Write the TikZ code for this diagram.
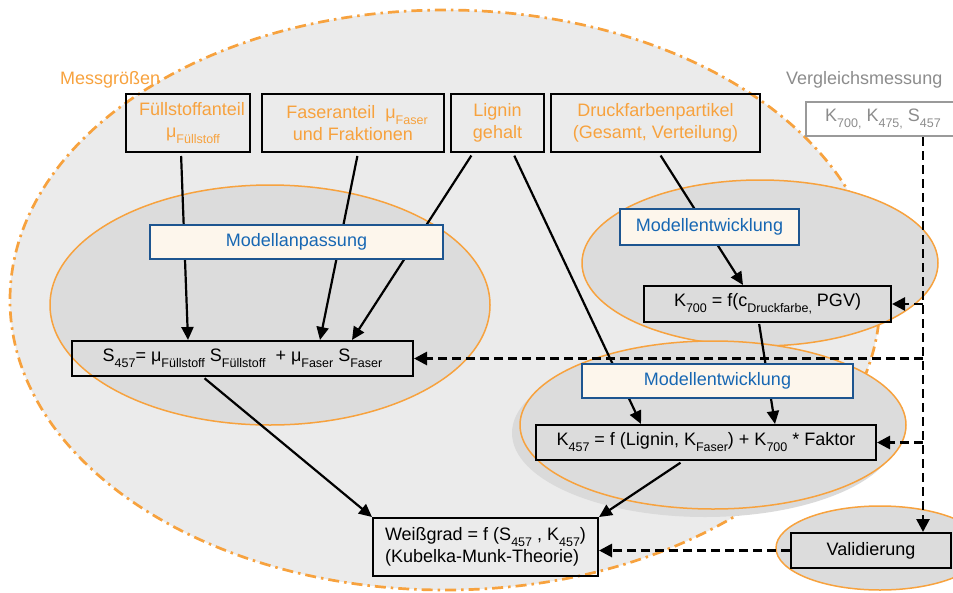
\documentclass[tikz,border=0pt]{standalone}
\usepackage{fontspec}
\setmainfont{Liberation Sans}
\usetikzlibrary{arrows.meta}
\definecolor{orng}{HTML}{F7A23E}
\definecolor{bluetxt}{HTML}{1767B3}
\definecolor{bluedraw}{HTML}{1D5590}
\definecolor{cream}{HTML}{FDF6EC}
\definecolor{outerfill}{HTML}{EBEBEB}
\definecolor{innerfill}{HTML}{DCDCDC}
\definecolor{shadowfill}{HTML}{DADADA}
\definecolor{graytxt}{HTML}{8C8C8C}
\definecolor{graydraw}{HTML}{9A9A9A}
\newcommand\dn[1]{\raisebox{-6pt}{\fontsize{12.5}{12.5}\selectfont #1}}
\tikzset{
  box/.style={draw=black, line width=2pt, inner sep=0pt, align=center},
  inbox/.style={box, text=orng},
  modelbox/.style={draw=bluedraw, line width=1.8pt, fill=cream, text=bluetxt, inner sep=0pt},
  arr/.style={line width=2.2pt, -{Triangle[length=13pt,width=12pt]}},
  darr/.style={line width=2.7pt, dash pattern=on 9pt off 5pt, -{Triangle[length=13pt,width=13pt]}},
  zone/.style={fill=innerfill, draw=orng, line width=1.5pt}
}
\begin{document}
\begin{tikzpicture}[x=1pt,y=-1pt,font=\fontsize{18}{22.5}\selectfont]
\useasboundingbox (0,0) rectangle (953,592);
\clip (0,0) rectangle (953,592);
% big outer ellipse
\fill[outerfill] (445,300) ellipse [x radius=435, y radius=290];
\draw[orng, line width=2.7pt, dash pattern=on 11pt off 5pt on 2.5pt off 5pt] (445,300) ellipse [x radius=435, y radius=290];
% inner ellipses
\draw[zone] (270,305) ellipse [x radius=220, y radius=120];
\draw[zone] (760,263) ellipse [x radius=178, y radius=83];
\fill[shadowfill] (705,433) ellipse [x radius=193, y radius=84];
\draw[zone] (713,425) ellipse [x radius=193, y radius=84];
\draw[zone] (880,548) ellipse [x radius=104, y radius=42];
% labels
\node[text=orng, anchor=west, inner sep=0pt] (mess) at (60,80) {Messgrößen};
\node[text=graytxt, anchor=west, inner sep=0pt] (vgl) at (786,80) {Vergleichsmessung};
% input boxes
\node[inbox, minimum width=124pt, minimum height=58pt] (fuell) at (188,123) {\hspace*{8pt}Füllstoffanteil\\\hspace*{10pt}μ\dn{Füllstoff}};
\node[inbox, minimum width=182pt, minimum height=58pt] (faser) at (353,123) {\hspace*{8pt}Faseranteil\ \ μ\dn{Faser}\\und Fraktionen};
\node[inbox, minimum width=93pt, minimum height=58pt] (lignin) at (497.5,123) {Lignin\\gehalt};
\node[inbox, minimum width=209pt, minimum height=58pt] (druck) at (655.5,123) {Druckfarbenpartikel\\(Gesamt, Verteilung)};
\node[draw=graydraw, line width=2pt, text=graytxt, inner sep=0pt, minimum width=154pt, minimum height=34pt] (vgbox) at (883,119) {K\dn{700,} K\dn{475,} S\dn{457}};
% equation boxes
\node[box, minimum width=341pt, minimum height=35pt] (s457) at (242.5,358.5) {S\dn{457}= μ\dn{Füllstoff} S\dn{Füllstoff}\ \ + μ\dn{Faser} S\dn{Faser}};
\node[box, minimum width=247pt, minimum height=36pt] (k700) at (767.5,304) {K\dn{700} = f(c\dn{Druckfarbe,} PGV)};
\node[box, minimum width=340pt, minimum height=35pt] (k457) at (706,442.5) {K\dn{457} = f (Lignin, K\dn{Faser}) + K\dn{700} * Faktor};
\node[box, minimum width=225pt, minimum height=58pt, align=left] (weiss) at (485.5,547) {Weißgrad = f (S\dn{457} , K\dn{457})\\(Kubelka-Munk-Theorie)};
\node[box, minimum width=160pt, minimum height=35pt] (valid) at (871,550.5) {Validierung};
% solid connectors
\draw[arr, shorten <=3pt] ([xshift=-7pt]fuell.south) -- ([xshift=-54.5pt]s457.north);
\draw[arr, shorten <=3pt] ([xshift=5pt]faser.south) -- ([xshift=77.5pt]s457.north);
\draw[arr, shorten <=3pt] ([xshift=-24.5pt]lignin.south) -- ([xshift=109.5pt]s457.north);
\draw[arr, shorten <=3pt] ([xshift=15.5pt]lignin.south) -- ([xshift=-65pt]k457.north);
\draw[arr, shorten <=3pt] ([xshift=3.5pt]druck.south) -- ([xshift=-24.5pt]k700.north);
\draw[arr, shorten <=1pt] ([xshift=-8.5pt]k700.south) -- ([xshift=69pt]k457.north);
\draw[arr, shorten <=2pt] ([xshift=-39.5pt]s457.south) -- (weiss.north west);
\draw[arr, shorten <=3pt] ([xshift=-23pt]k457.south) -- (weiss.north east);
% dashed connectors
\coordinate (bus) at (923,0);
\draw[darr] (vgbox.south -| bus) -- (valid.north -| bus);
\draw[darr] (k700.east -| bus) -- (k700.east);
\draw[darr] (s457.east -| bus) -- (s457.east);
\draw[darr] (k457.east -| bus) -- (k457.east);
\draw[darr] (valid.west) -- (weiss.east |- valid.west);
% model boxes (over the connectors)
\node[modelbox, minimum width=293pt, minimum height=34pt] (anp) at (296.5,242) {Modellanpassung};
\node[modelbox, minimum width=179pt, minimum height=36pt] (me1) at (709.5,227) {Modellentwicklung};
\node[modelbox, minimum width=271pt, minimum height=34pt] (me2) at (717.5,381) {Modellentwicklung};
\end{tikzpicture}
\end{document}
